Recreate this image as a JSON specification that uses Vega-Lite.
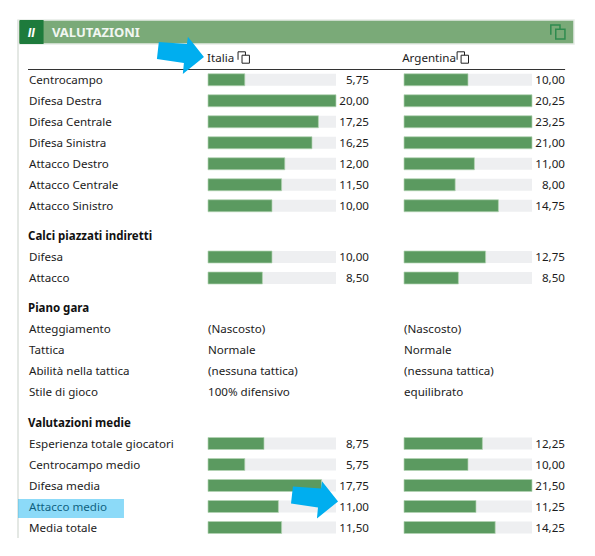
{"$schema":"https://vega.github.io/schema/vega-lite/v6.json","background":"white","padding":{"left":17,"top":19,"right":0,"bottom":0},"bounds":"flush","spacing":9.25,"config":{"view":{"stroke":null},"axis":{"disable":true},"text":{"font":"Noto Sans","fontSize":11.6,"color":"#1c1c1c","dy":1},"locale":{"number":{"decimal":",","thousands":".","grouping":[3],"currency":["","€"]}}},"datasets":{"valori":[{"sezione":"Settori","voce":"Centrocampo","squadra":"Italia","valore":5.75},{"sezione":"Settori","voce":"Difesa Destra","squadra":"Italia","valore":20},{"sezione":"Settori","voce":"Difesa Centrale","squadra":"Italia","valore":17.25},{"sezione":"Settori","voce":"Difesa Sinistra","squadra":"Italia","valore":16.25},{"sezione":"Settori","voce":"Attacco Destro","squadra":"Italia","valore":12},{"sezione":"Settori","voce":"Attacco Centrale","squadra":"Italia","valore":11.5},{"sezione":"Settori","voce":"Attacco Sinistro","squadra":"Italia","valore":10},{"sezione":"Settori","voce":"Centrocampo","squadra":"Argentina","valore":10},{"sezione":"Settori","voce":"Difesa Destra","squadra":"Argentina","valore":20.25},{"sezione":"Settori","voce":"Difesa Centrale","squadra":"Argentina","valore":23.25},{"sezione":"Settori","voce":"Difesa Sinistra","squadra":"Argentina","valore":21},{"sezione":"Settori","voce":"Attacco Destro","squadra":"Argentina","valore":11},{"sezione":"Settori","voce":"Attacco Centrale","squadra":"Argentina","valore":8},{"sezione":"Settori","voce":"Attacco Sinistro","squadra":"Argentina","valore":14.75},{"sezione":"Calci","voce":"Difesa","squadra":"Italia","valore":10},{"sezione":"Calci","voce":"Attacco","squadra":"Italia","valore":8.5},{"sezione":"Calci","voce":"Difesa","squadra":"Argentina","valore":12.75},{"sezione":"Calci","voce":"Attacco","squadra":"Argentina","valore":8.5},{"sezione":"Medie","voce":"Esperienza totale giocatori","squadra":"Italia","valore":8.75},{"sezione":"Medie","voce":"Centrocampo medio","squadra":"Italia","valore":5.75},{"sezione":"Medie","voce":"Difesa media","squadra":"Italia","valore":17.75},{"sezione":"Medie","voce":"Attacco medio","squadra":"Italia","valore":11},{"sezione":"Medie","voce":"Media totale","squadra":"Italia","valore":11.5},{"sezione":"Medie","voce":"Esperienza totale giocatori","squadra":"Argentina","valore":12.25},{"sezione":"Medie","voce":"Centrocampo medio","squadra":"Argentina","valore":10},{"sezione":"Medie","voce":"Difesa media","squadra":"Argentina","valore":21.5},{"sezione":"Medie","voce":"Attacco medio","squadra":"Argentina","valore":11.25},{"sezione":"Medie","voce":"Media totale","squadra":"Argentina","valore":14.25}],"testi":[{"voce":"Atteggiamento","squadra":"Italia","testo":"(Nascosto)"},{"voce":"Tattica","squadra":"Italia","testo":"Normale"},{"voce":"Abilità nella tattica","squadra":"Italia","testo":"(nessuna tattica)"},{"voce":"Stile di gioco","squadra":"Italia","testo":"100% difensivo"},{"voce":"Atteggiamento","squadra":"Argentina","testo":"(Nascosto)"},{"voce":"Tattica","squadra":"Argentina","testo":"Normale"},{"voce":"Abilità nella tattica","squadra":"Argentina","testo":"(nessuna tattica)"},{"voce":"Stile di gioco","squadra":"Argentina","testo":"equilibrato"}]},"vconcat":[{"width":556,"height":40,"data":{"values":[{"titolo":"VALUTAZIONI"}]},"layer":[{"mark":{"type":"rect","color":"#7aaa78","stroke":"#e6ece6","strokeWidth":1.5},"encoding":{"x":{"datum":0,"type":"quantitative","scale":{"domain":[0,100]}},"x2":{"datum":100},"y":{"datum":0,"type":"quantitative","scale":{"domain":[40,0]}},"y2":{"datum":24}}},{"mark":{"type":"rule","color":"#e4e8e4","strokeWidth":2},"encoding":{"x":{"datum":0,"type":"quantitative"},"y":{"datum":0,"type":"quantitative"},"y2":{"datum":518}}},{"mark":{"type":"rect","color":"#1e7b3c"},"encoding":{"x":{"datum":0.3,"type":"quantitative"},"x2":{"datum":4.6},"y":{"datum":0,"type":"quantitative"},"y2":{"datum":24}}},{"mark":{"type":"text","text":"II","font":"Roboto","fontStyle":"italic","fontWeight":"bold","fontSize":13,"color":"white","align":"center"},"encoding":{"x":{"datum":2.4,"type":"quantitative"},"y":{"datum":12,"type":"quantitative"}}},{"mark":{"type":"text","fontWeight":"bold","fontSize":13,"color":"#f1f6f1","align":"left"},"encoding":{"x":{"datum":6.1,"type":"quantitative"},"y":{"datum":12,"type":"quantitative"},"text":{"field":"titolo"}}},{"mark":{"type":"point","shape":"M-0.5,0.2 L-0.5,-0.5 L0.15,-0.5 L0.15,-0.2 M-0.15,-0.2 L0.5,-0.2 L0.5,0.5 L-0.15,0.5 Z","size":800,"filled":false,"opacity":1,"color":"#2e8b4e","strokeWidth":1.5},"encoding":{"x":{"datum":97.1,"type":"quantitative"},"y":{"datum":12,"type":"quantitative"}}},{"mark":{"type":"rule","color":"#333333","strokeWidth":1},"encoding":{"x":{"datum":1.8,"type":"quantitative"},"x2":{"datum":98.4},"y":{"datum":49.5,"type":"quantitative"}}},{"data":{"values":[{"squadra":"Italia"}]},"mark":{"type":"text","align":"left"},"encoding":{"x":{"datum":34,"type":"quantitative"},"y":{"datum":38,"type":"quantitative"},"text":{"field":"squadra"}}},{"data":{"values":[{"squadra":"Argentina"}]},"mark":{"type":"text","align":"left"},"encoding":{"x":{"datum":69.1,"type":"quantitative"},"y":{"datum":38,"type":"quantitative"},"text":{"field":"squadra"}}},{"mark":{"type":"point","shape":"M-0.5,0.2 L-0.5,-0.5 L0.15,-0.5 L0.15,-0.2 M-0.15,-0.2 L0.5,-0.2 L0.5,0.5 L-0.15,0.5 Z","size":520,"filled":false,"opacity":1,"color":"#222222","strokeWidth":1},"encoding":{"x":{"datum":40.6,"type":"quantitative"},"y":{"datum":37.5,"type":"quantitative"}}},{"mark":{"type":"point","shape":"M-0.5,0.2 L-0.5,-0.5 L0.15,-0.5 L0.15,-0.2 M-0.15,-0.2 L0.5,-0.2 L0.5,0.5 L-0.15,0.5 Z","size":520,"filled":false,"opacity":1,"color":"#222222","strokeWidth":1},"encoding":{"x":{"datum":80,"type":"quantitative"},"y":{"datum":37.5,"type":"quantitative"}}},{"mark":{"type":"point","shape":"M-0.46,-0.29 L0.125,-0.25 L0.146,-0.4 L0.48,0.02 L0.04,0.375 L0.0625,0.146 L-0.5,0.0625 Z","size":9216,"filled":true,"opacity":1,"color":"#00aeef"},"encoding":{"x":{"datum":29.3,"type":"quantitative"},"y":{"datum":36,"type":"quantitative"}}}]},{"width":556,"height":147,"encoding":{"y":{"field":"voce","type":"nominal","sort":null,"scale":{"type":"band","paddingInner":0,"paddingOuter":0,"domain":["Centrocampo","Difesa Destra","Difesa Centrale","Difesa Sinistra","Attacco Destro","Attacco Centrale","Attacco Sinistro"]}}},"data":{"name":"valori"},"transform":[{"filter":"datum.sezione==='Settori'"}],"layer":[{"transform":[{"filter":"datum.squadra==='Italia'"}],"mark":{"type":"text","align":"left","dx":11},"encoding":{"x":{"datum":0,"type":"quantitative","scale":{"domain":[0,20],"range":[0,128],"clamp":true}},"text":{"field":"voce"}}},{"transform":[{"filter":"datum.squadra==='Italia'"}],"mark":{"type":"bar","height":12,"color":"#eeeff1","xOffset":190,"x2Offset":190},"encoding":{"x":{"datum":0,"type":"quantitative"},"x2":{"datum":20}}},{"transform":[{"filter":"datum.squadra==='Italia'"}],"mark":{"type":"bar","height":12,"color":"#5b9a60","stroke":"#b5d6b5","strokeWidth":0.7,"xOffset":190,"x2Offset":190},"encoding":{"x":{"field":"valore","type":"quantitative","stack":null},"x2":{"datum":0}}},{"transform":[{"filter":"datum.squadra==='Italia'"}],"mark":{"type":"text","align":"right","dx":351},"encoding":{"x":{"datum":0,"type":"quantitative"},"text":{"field":"valore","type":"quantitative","format":".2f"}}},{"transform":[{"filter":"datum.squadra==='Argentina'"}],"mark":{"type":"bar","height":12,"color":"#eeeff1","xOffset":386,"x2Offset":386},"encoding":{"x":{"datum":0,"type":"quantitative"},"x2":{"datum":20}}},{"transform":[{"filter":"datum.squadra==='Argentina'"}],"mark":{"type":"bar","height":12,"color":"#5b9a60","stroke":"#b5d6b5","strokeWidth":0.7,"xOffset":386,"x2Offset":386},"encoding":{"x":{"field":"valore","type":"quantitative","stack":null},"x2":{"datum":0}}},{"transform":[{"filter":"datum.squadra==='Argentina'"}],"mark":{"type":"text","align":"right","dx":547},"encoding":{"x":{"datum":0,"type":"quantitative"},"text":{"field":"valore","type":"quantitative","format":".2f"}}}]},{"width":556,"height":63,"encoding":{"y":{"field":"voce","type":"nominal","sort":null,"scale":{"type":"band","paddingInner":0,"paddingOuter":0,"domain":["Calci piazzati indiretti","Difesa","Attacco"]}}},"data":{"name":"valori"},"transform":[{"filter":"datum.sezione==='Calci'"}],"layer":[{"data":{"values":[{"voce":"Calci piazzati indiretti"}]},"transform":[],"mark":{"type":"text","align":"left","dx":10,"fontWeight":"bold","fontSize":11.5,"color":"#111111"},"encoding":{"x":{"datum":0,"type":"quantitative","scale":{"domain":[0,20],"range":[0,128],"clamp":true}},"text":{"field":"voce"}}},{"transform":[{"filter":"datum.squadra==='Italia'"}],"mark":{"type":"text","align":"left","dx":11},"encoding":{"x":{"datum":0,"type":"quantitative"},"text":{"field":"voce"}}},{"transform":[{"filter":"datum.squadra==='Italia'"}],"mark":{"type":"bar","height":12,"color":"#eeeff1","xOffset":190,"x2Offset":190},"encoding":{"x":{"datum":0,"type":"quantitative"},"x2":{"datum":20}}},{"transform":[{"filter":"datum.squadra==='Italia'"}],"mark":{"type":"bar","height":12,"color":"#5b9a60","stroke":"#b5d6b5","strokeWidth":0.7,"xOffset":190,"x2Offset":190},"encoding":{"x":{"field":"valore","type":"quantitative","stack":null},"x2":{"datum":0}}},{"transform":[{"filter":"datum.squadra==='Italia'"}],"mark":{"type":"text","align":"right","dx":351},"encoding":{"x":{"datum":0,"type":"quantitative"},"text":{"field":"valore","type":"quantitative","format":".2f"}}},{"transform":[{"filter":"datum.squadra==='Argentina'"}],"mark":{"type":"bar","height":12,"color":"#eeeff1","xOffset":386,"x2Offset":386},"encoding":{"x":{"datum":0,"type":"quantitative"},"x2":{"datum":20}}},{"transform":[{"filter":"datum.squadra==='Argentina'"}],"mark":{"type":"bar","height":12,"color":"#5b9a60","stroke":"#b5d6b5","strokeWidth":0.7,"xOffset":386,"x2Offset":386},"encoding":{"x":{"field":"valore","type":"quantitative","stack":null},"x2":{"datum":0}}},{"transform":[{"filter":"datum.squadra==='Argentina'"}],"mark":{"type":"text","align":"right","dx":547},"encoding":{"x":{"datum":0,"type":"quantitative"},"text":{"field":"valore","type":"quantitative","format":".2f"}}}]},{"width":556,"height":105,"encoding":{"y":{"field":"voce","type":"nominal","sort":null,"scale":{"type":"band","paddingInner":0,"paddingOuter":0,"domain":["Piano gara","Atteggiamento","Tattica","Abilità nella tattica","Stile di gioco"]}}},"data":{"name":"testi"},"layer":[{"data":{"values":[{"voce":"Piano gara"}]},"mark":{"type":"text","align":"left","dx":10,"fontWeight":"bold","fontSize":11.5,"color":"#111111"},"encoding":{"x":{"datum":0,"type":"quantitative","scale":{"domain":[0,20],"range":[0,128]}},"text":{"field":"voce"}}},{"transform":[{"filter":"datum.squadra==='Italia'"}],"mark":{"type":"text","align":"left","dx":11},"encoding":{"x":{"datum":0,"type":"quantitative"},"text":{"field":"voce"}}},{"transform":[{"filter":"datum.squadra==='Italia'"}],"mark":{"type":"text","align":"left","dx":190},"encoding":{"x":{"datum":0,"type":"quantitative"},"text":{"field":"testo"}}},{"transform":[{"filter":"datum.squadra==='Argentina'"}],"mark":{"type":"text","align":"left","dx":386},"encoding":{"x":{"datum":0,"type":"quantitative"},"text":{"field":"testo"}}}]},{"width":556,"height":126,"encoding":{"y":{"field":"voce","type":"nominal","sort":null,"scale":{"type":"band","paddingInner":0,"paddingOuter":0,"domain":["Valutazioni medie","Esperienza totale giocatori","Centrocampo medio","Difesa media","Attacco medio","Media totale"]}}},"data":{"name":"valori"},"transform":[{"filter":"datum.sezione==='Medie'"}],"layer":[{"data":{"values":[{"voce":"Valutazioni medie"}]},"transform":[],"mark":{"type":"text","align":"left","dx":10,"fontWeight":"bold","fontSize":11.5,"color":"#111111"},"encoding":{"x":{"datum":0,"type":"quantitative","scale":{"domain":[0,20],"range":[0,128],"clamp":true}},"text":{"field":"voce"}}},{"transform":[{"filter":"datum.squadra==='Italia'"}],"mark":{"type":"text","align":"left","dx":11},"encoding":{"x":{"datum":0,"type":"quantitative"},"text":{"field":"voce"}}},{"data":{"values":[{"voce":"Attacco medio"}]},"mark":{"type":"bar","height":19,"color":"#00aeef","opacity":0.45,"yOffset":2,"y2Offset":2},"encoding":{"x":{"datum":0,"type":"quantitative"},"x2":{"datum":16.56}}},{"transform":[{"filter":"datum.squadra==='Italia'"}],"mark":{"type":"bar","height":12,"color":"#eeeff1","xOffset":190,"x2Offset":190},"encoding":{"x":{"datum":0,"type":"quantitative"},"x2":{"datum":20}}},{"transform":[{"filter":"datum.squadra==='Italia'"}],"mark":{"type":"bar","height":12,"color":"#5b9a60","stroke":"#b5d6b5","strokeWidth":0.7,"xOffset":190,"x2Offset":190},"encoding":{"x":{"field":"valore","type":"quantitative","stack":null},"x2":{"datum":0}}},{"transform":[{"filter":"datum.squadra==='Italia'"}],"mark":{"type":"text","align":"right","dx":351},"encoding":{"x":{"datum":0,"type":"quantitative"},"text":{"field":"valore","type":"quantitative","format":".2f"}}},{"transform":[{"filter":"datum.squadra==='Argentina'"}],"mark":{"type":"bar","height":12,"color":"#eeeff1","xOffset":386,"x2Offset":386},"encoding":{"x":{"datum":0,"type":"quantitative"},"x2":{"datum":20}}},{"transform":[{"filter":"datum.squadra==='Argentina'"}],"mark":{"type":"bar","height":12,"color":"#5b9a60","stroke":"#b5d6b5","strokeWidth":0.7,"xOffset":386,"x2Offset":386},"encoding":{"x":{"field":"valore","type":"quantitative","stack":null},"x2":{"datum":0}}},{"transform":[{"filter":"datum.squadra==='Argentina'"}],"mark":{"type":"text","align":"right","dx":547},"encoding":{"x":{"datum":0,"type":"quantitative"},"text":{"field":"valore","type":"quantitative","format":".2f"}}},{"data":{"values":[{"voce":"Attacco medio"}]},"mark":{"type":"point","shape":"M-0.46,-0.29 L0.125,-0.25 L0.146,-0.4 L0.48,0.02 L0.04,0.375 L0.0625,0.146 L-0.5,0.0625 Z","size":9216,"filled":true,"opacity":1,"color":"#00aeef","xOffset":297,"yOffset":-6},"encoding":{"x":{"datum":0,"type":"quantitative"}}}]}]}
